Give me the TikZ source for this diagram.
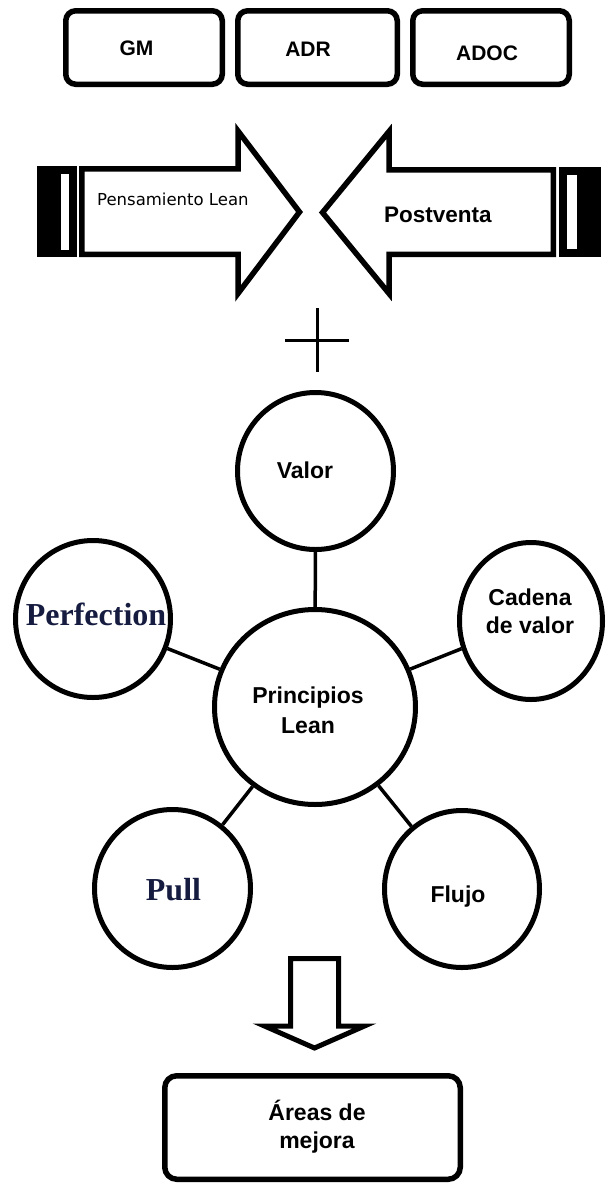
\documentclass[tikz,border=0pt]{standalone}
\usepackage{fontspec}
\setmainfont{Liberation Sans}
\newfontfamily\timesfont{Liberation Serif}
\newfontfamily\tahomafont{DejaVu Sans}
\usetikzlibrary{shapes.geometric}
\definecolor{inkblue}{RGB}{22,28,64}
\begin{document}
\begin{tikzpicture}[x=1pt,y=-1pt,
  topbox/.style={draw,line width=5.5pt,rounded corners=10pt,inner sep=0pt,
    minimum width=#1,minimum height=73.5pt},
  resultbox/.style={draw,line width=5.5pt,rounded corners=12pt,inner sep=0pt,
    minimum width=295.5pt,minimum height=103.5pt},
  bubble/.style={draw,ellipse,line width=5pt,inner sep=0pt},
  link/.style={line width=3.5pt},
  blockline/.style={draw,line width=5.5pt,line join=miter,fill=white},
  txt/.style={inner sep=0pt,anchor=base},
  boxlabel/.style={txt,font=\fontsize{21}{25}\selectfont\bfseries},
  sanslabel/.style={txt,align=center,font=\fontsize{23}{#1}\selectfont\bfseries},
  sanslabel/.default=30pt,
  seriflabel/.style={txt,text=inkblue,font=\timesfont\fontsize{32}{36}\selectfont\bfseries},
]
\useasboundingbox (0,0) rectangle (608,1184);
\fill[white] (0,0) rectangle (608,1184);

% top row of boxes
\node[topbox=156.5pt] (gm)   at (144,47.5)   {};
\node[topbox=159.5pt] (adr)  at (317.5,47.5) {};
\node[topbox=156.5pt] (adoc) at (491,47.5)   {};
\node[boxlabel] (gmtext)   at (136.5,55) {GM};
\node[boxlabel] (adrtext)  at (308,56)   {ADR};
\node[boxlabel] (adoctext) at (487,60)   {ADOC};

% left block arrow with its end cap
\fill (37,166) rectangle (77,257);
\fill[white] (61,174) rectangle (69,250);
\path[blockline] (81.75,168.75) -- (238,168.75) -- (238,131) -- (299.5,212)
  -- (238,293.5) -- (238,254.25) -- (81.75,254.25) -- cycle;
\node[txt,anchor=base west,font=\tahomafont\fontsize{16.5}{20}\selectfont]
  (leanthink) at (97,205) {Pensamiento Lean};

% right block arrow with its end cap
\fill (559,167) rectangle (601,257);
\fill[white] (567,175) rectangle (577,249);
\path[blockline] (553.25,169.75) -- (389,169.75) -- (389,131.5) -- (322.5,212.5)
  -- (389,293.5) -- (389,254.25) -- (553.25,254.25) -- cycle;
\node[txt,anchor=base west,font=\fontsize{22.5}{26}\selectfont\bfseries]
  (postsale) at (384,222) {Postventa};

% plus sign
\draw[line width=3pt] (317,308) -- (317,372);
\draw[line width=3pt] (285,340) -- (349,340);

% principle bubbles
\node[bubble,minimum width=156pt,minimum height=157pt] (valor)  at (315.5,471) {};
\node[bubble,minimum width=201pt,minimum height=195pt] (center) at (315,707) {};
\node[bubble,minimum width=155pt,minimum height=157pt] (perf)   at (93,619) {};
\node[bubble,minimum width=143pt,minimum height=157pt] (cadena) at (531,621) {};
\node[bubble,minimum width=156pt,minimum height=158pt] (pull)   at (172.5,888.5) {};
\node[bubble,minimum width=155pt,minimum height=157pt] (flujo)  at (462,889) {};

\draw[link] (center) -- (valor);
\draw[link] (center) -- (perf);
\draw[link] (center) -- (cadena);
\draw[link] (center) -- (pull);
\draw[link] (center) -- (flujo);

% labels (a two-line label sits on the baseline of its last line)
\node[sanslabel] (valortext)  at (305,478) {Valor};
\node[sanslabel] (centertext) at (308,733) {Principios\\Lean};
\node[sanslabel=28pt] (cadenatext) at (530,633) {Cadena\\de valor};
\node[seriflabel] (perftext)  at (96,625)    {Perfection};
\node[seriflabel] (pulltext)  at (173.5,900) {Pull};
\node[sanslabel] (flujotext)  at (458,902)   {Flujo};

% downward block arrow
\path[blockline,line width=5pt] (290.5,958.5) -- (338.5,958.5) -- (338.5,1026)
  -- (364.5,1026) -- (314.5,1048) -- (264.5,1026) -- (290.5,1026) -- cycle;

% result box
\node[resultbox] (areas) at (312.5,1127.5) {};
\node[sanslabel=28pt] (areastext) at (317,1148) {Áreas de\\mejora};
\end{tikzpicture}
\end{document}
